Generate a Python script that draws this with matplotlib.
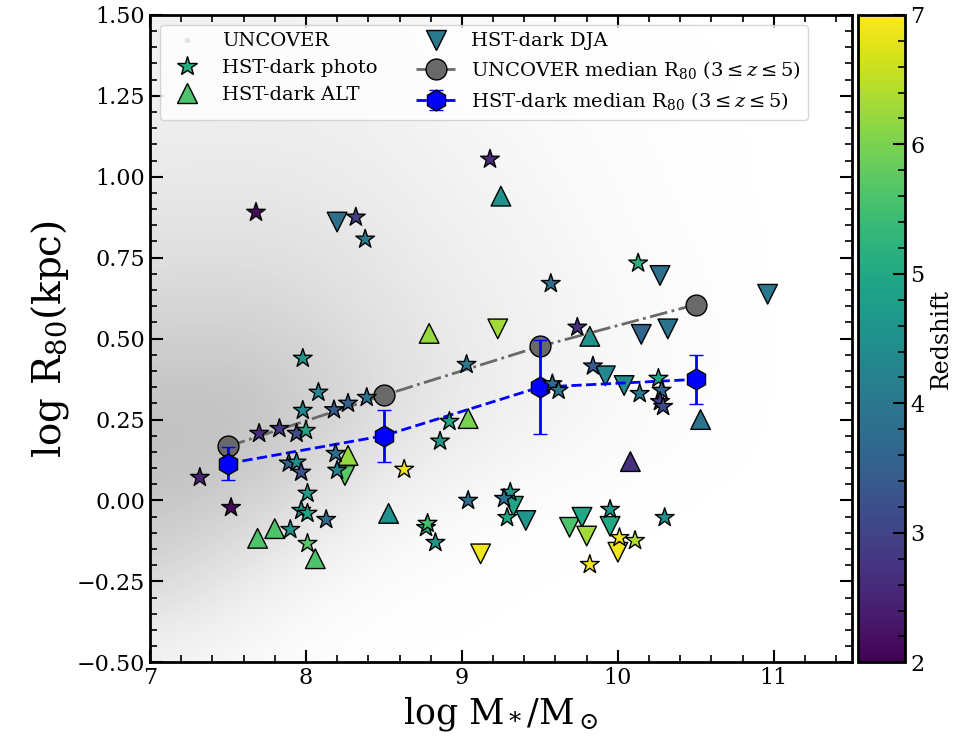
import numpy as np
import matplotlib
matplotlib.use('Agg')
import matplotlib.pyplot as plt
from matplotlib.colors import LinearSegmentedColormap
from matplotlib.lines import Line2D
from matplotlib.ticker import MultipleLocator

plt.rcParams['font.family'] = ['DejaVu Serif']
plt.rcParams['mathtext.fontset'] = 'dejavuserif'

# ---------------- data ----------------
# UNCOVER background density, rows from y=1.5 down to y=-0.5,
# columns x = 7.0 ... 11.5 step 0.5
unc_x_centers = [7.0, 7.5, 8.0, 8.5, 9.0, 9.5, 10.0, 10.5, 11.0, 11.5]
unc_y_centers = [1.5, 1.25, 1.0, 0.75, 0.5, 0.25, 0.0, -0.25, -0.5]
unc_density = [
    [0.10, 0.11, 0.10, 0.08, 0.05, 0.03, 0.01, 0.00, 0.00, 0.00],
    [0.13, 0.14, 0.13, 0.11, 0.07, 0.04, 0.02, 0.01, 0.00, 0.00],
    [0.18, 0.19, 0.18, 0.15, 0.10, 0.06, 0.03, 0.01, 0.00, 0.00],
    [0.27, 0.28, 0.26, 0.20, 0.14, 0.09, 0.04, 0.02, 0.00, 0.00],
    [0.40, 0.42, 0.36, 0.26, 0.18, 0.12, 0.06, 0.03, 0.00, 0.00],
    [0.55, 0.57, 0.45, 0.30, 0.18, 0.10, 0.05, 0.02, 0.00, 0.00],
    [0.52, 0.45, 0.28, 0.12, 0.05, 0.02, 0.01, 0.00, 0.00, 0.00],
    [0.35, 0.20, 0.07, 0.02, 0.01, 0.00, 0.00, 0.00, 0.00, 0.00],
    [0.08, 0.04, 0.01, 0.00, 0.00, 0.00, 0.00, 0.00, 0.00, 0.00],
]

# HST-dark photo (stars)
photo_mass = [8.77, 7.68, 8.32, 8.38, 9.18, 7.98, 9.03, 8.08, 8.39, 8.18, 8.27, 7.98,
              7.70, 7.83, 7.94, 8.00, 7.32, 7.52, 7.89, 7.94, 7.97, 8.19, 8.20, 8.01,
              7.97, 8.01, 8.13, 7.90, 8.01, 8.63, 8.78, 8.83, 8.86, 8.92, 9.04,
              9.58, 9.62, 9.84, 9.74, 10.14, 10.26, 10.28, 10.27, 10.29, 10.13, 9.57,
              9.31, 9.27, 9.29, 9.95, 10.30, 10.01, 10.11, 9.82]
photo_r80 = [-0.084, 0.89, 0.875, 0.807, 1.054, 0.439, 0.42, 0.334, 0.318, 0.28, 0.30, 0.278,
             0.207, 0.222, 0.207, 0.216, 0.071, -0.022, 0.115, 0.118, 0.087, 0.145, 0.093, 0.022,
             -0.031, -0.04, -0.059, -0.09, -0.133, 0.096, -0.071, -0.13, 0.183, 0.244, 0.0,
             0.36, 0.34, 0.415, 0.535, 0.33, 0.377, 0.34, 0.305, 0.29, 0.733, 0.67,
             0.025, 0.006, -0.053, -0.028, -0.053, -0.115, -0.124, -0.198]
photo_z = [5.1, 2.1, 2.9, 4.0, 2.6, 4.6, 4.0, 4.3, 3.9, 3.4, 3.5, 4.3,
           2.7, 2.8, 3.2, 4.9, 2.5, 2.1, 3.5, 4.4, 3.2, 3.8, 4.2, 4.7,
           4.4, 4.9, 3.8, 4.5, 5.7, 6.9, 5.5, 4.6, 4.6, 4.9, 3.8,
           3.7, 3.9, 3.4, 2.7, 4.0, 4.9, 3.6, 2.9, 3.1, 5.2, 3.8,
           4.6, 3.8, 5.0, 4.6, 4.5, 6.9, 6.4, 6.9]

# HST-dark ALT (up triangles)
alt_mass = [7.69, 9.25, 8.79, 9.82, 9.04, 8.27, 8.53, 7.80, 8.06, 10.08, 10.53]
alt_r80 = [-0.117, 0.94, 0.516, 0.507, 0.253, 0.139, -0.04, -0.087, -0.18, 0.12, 0.25]
alt_z = [5.6, 4.5, 6.2, 4.5, 6.0, 6.2, 4.5, 5.6, 5.6, 2.7, 3.9]

# HST-dark DJA (down triangles)
dja_mass = [10.96, 8.20, 10.27, 9.23, 10.15, 10.32, 9.92, 10.04, 8.25, 9.12,
            9.33, 9.41, 9.69, 9.77, 9.80, 9.95, 10.00]
dja_r80 = [0.637, 0.86, 0.695, 0.53, 0.513, 0.53, 0.385, 0.355, 0.077, -0.165,
           -0.018, -0.062, -0.083, -0.052, -0.11, -0.08, -0.16]
dja_z = [4.0, 3.8, 3.8, 6.3, 3.6, 3.9, 4.3, 4.4, 5.7, 6.9,
         4.9, 4.6, 5.6, 5.0, 6.3, 5.0, 6.9]

# medians
med_mass = [7.5, 8.5, 9.5, 10.5]
unc_med_r80 = [0.167, 0.325, 0.476, 0.605]
hst_med_r80 = [0.114, 0.200, 0.350, 0.374]
hst_med_err = [0.05, 0.08, 0.146, 0.076]

# ---------------- figure ----------------
fig = plt.figure(figsize=(9.55, 7.45), dpi=100)
ax = fig.add_axes([0.157, 0.111, 0.735, 0.869])
cax = fig.add_axes([0.898, 0.111, 0.050, 0.869])

# UNCOVER cloud as density image
grey = (0.55, 0.55, 0.55)
cmap_bg = LinearSegmentedColormap.from_list('bg', [grey + (0.0,), grey + (1.0,)])
dx = 0.25
dy = 0.125
ax.imshow(np.array(unc_density), cmap=cmap_bg, vmin=0, vmax=1,
          extent=[unc_x_centers[0] - dx, unc_x_centers[-1] + dx,
                  unc_y_centers[-1] - dy, unc_y_centers[0] + dy],
          origin='upper', aspect='auto', interpolation='bicubic', zorder=0)

vmin, vmax = 2, 7
cm = 'viridis'
ax.scatter(dja_mass, dja_r80, c=dja_z, cmap=cm, vmin=vmin, vmax=vmax, marker='v',
           s=200, edgecolors='k', linewidths=1.0, zorder=3)
ax.scatter(alt_mass, alt_r80, c=alt_z, cmap=cm, vmin=vmin, vmax=vmax, marker='^',
           s=200, edgecolors='k', linewidths=1.0, zorder=3)

ax.plot(med_mass, unc_med_r80, '-.', color='dimgray', lw=2, marker='o', ms=15,
        mfc='dimgray', mec='k', mew=1.0, zorder=4)
ax.errorbar(med_mass, hst_med_r80, yerr=hst_med_err, fmt='h--', color='blue',
            ms=15, mfc='blue', mec='k', mew=1.0, lw=2, elinewidth=2, capsize=5,
            capthick=2, zorder=4)

sc = ax.scatter(photo_mass, photo_r80, c=photo_z, cmap=cm, vmin=vmin, vmax=vmax,
                marker='*', s=200, edgecolors='k', linewidths=1.0, zorder=5)

ax.set_xlim(7, 11.5)
ax.set_ylim(-0.5, 1.5)
ax.xaxis.set_major_locator(MultipleLocator(1))
ax.xaxis.set_minor_locator(MultipleLocator(0.2))
ax.yaxis.set_major_locator(MultipleLocator(0.25))
ax.yaxis.set_minor_locator(MultipleLocator(0.05))
ax.tick_params(which='both', direction='in', top=True, right=True, labelsize=16)
ax.tick_params(which='major', length=9, width=1.5)
ax.tick_params(which='minor', length=5, width=1.2)
for sp in ax.spines.values():
    sp.set_linewidth(2)
ax.set_xlabel(r'log M$_*$/M$_\odot$', fontsize=25)
ax.set_ylabel(r'log R$_{80}$(kpc)', fontsize=28)

# legend
cmap_obj = plt.get_cmap(cm)
def zc(z):
    return cmap_obj((z - vmin) / (vmax - vmin))
h_unc = Line2D([], [], ls='none', marker='o', ms=4, mfc='lightgray', mec='none', alpha=0.6)
h_photo = Line2D([], [], ls='none', marker='*', ms=15, mfc=zc(photo_z[0]), mec='k', mew=1.0)
h_alt = Line2D([], [], ls='none', marker='^', ms=15, mfc=zc(alt_z[0]), mec='k', mew=1.0)
h_dja = Line2D([], [], ls='none', marker='v', ms=15, mfc=zc(dja_z[0]), mec='k', mew=1.0)
h_um = ax.lines[0]
h_hm = ax.containers[0]
labels = ['UNCOVER', 'HST-dark photo', 'HST-dark ALT', 'HST-dark DJA',
          r'UNCOVER median R$_{80}$ ($3\leq z\leq 5$)',
          r'HST-dark median R$_{80}$ ($3\leq z\leq 5$)']
ax.legend([h_unc, h_photo, h_alt, h_dja, h_um, h_hm], labels, loc='upper left',
          ncol=2, fontsize=14, framealpha=0.8, columnspacing=2.0,
          handletextpad=0.8, borderaxespad=0.5, labelspacing=0.45)

cb = fig.colorbar(sc, cax=cax)
cb.set_label('Redshift', fontsize=17)
cb.outline.set_linewidth(2)
cax.yaxis.set_major_locator(MultipleLocator(1))
cax.yaxis.set_minor_locator(MultipleLocator(0.2))
cax.tick_params(which='both', direction='in', labelsize=16)
cax.tick_params(which='major', length=9, width=1.5)
cax.tick_params(which='minor', length=5, width=1.2)

fig.savefig('out.png', dpi=100)
